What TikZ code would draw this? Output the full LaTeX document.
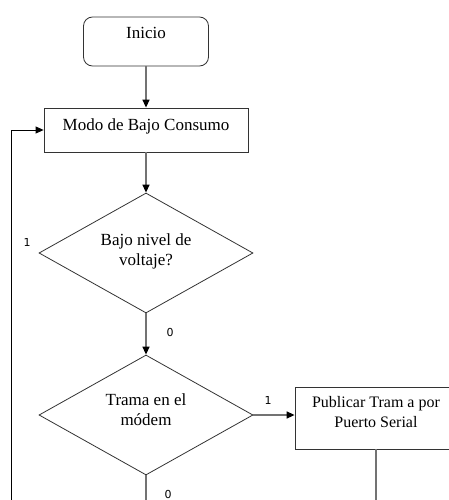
\documentclass[tikz,border=0pt]{standalone}
\usepackage{fontspec}
\setmainfont{Liberation Serif}
\newfontfamily\lblfont{DejaVu Sans}
\usetikzlibrary{arrows.meta,shapes.geometric}
\definecolor{lgray}{gray}{0.45}
\definecolor{ogray}{gray}{0.2}
\begin{document}
\begin{tikzpicture}[x=1pt,y=-1pt,
  box/.style={draw=ogray,line width=0.8pt,inner sep=0pt,font=\fontsize{17}{20}\selectfont,align=center},
  dec/.style={diamond,aspect=1.78,draw=ogray,line width=0.8pt,inner sep=0pt,minimum width=214pt,minimum height=120pt,font=\fontsize{17}{20}\selectfont,align=center},
  arrowline/.style={draw=lgray,line width=1.4pt,-{Triangle[length=8pt,width=7pt,color=black]}},
  plainline/.style={draw=lgray,line width=1.4pt},
  loopline/.style={draw=black,line width=0.8pt,-{Triangle[length=8pt,width=7pt,color=black]}},
  lbl/.style={font=\lblfont\fontsize{11}{13}\selectfont,inner sep=0pt}]
\useasboundingbox (0,0) rectangle (448,500);
\node[box,rounded corners=9pt,minimum width=125pt,minimum height=49pt,text height=12pt,text depth=18pt] (inicio) at (146,41.5) {Inicio};
\node[box,minimum width=204pt,minimum height=44pt,text height=11.6pt,text depth=10.4pt] (modo) at (146,130) {Modo de Bajo Consumo};
\node[dec,text height=31.6pt,text depth=6.4pt] (d1) at (146,253) {Bajo nivel de\\voltaje?};
\node[dec,text height=31.6pt,text depth=10.4pt] (d2) at (146,415) {Trama en el\\módem};
\node[box,minimum width=162pt,minimum height=62pt,font=\fontsize{16}{20}\selectfont,text height=30.9pt,text depth=12.3pt] (pub) at (376,418) {Publicar Tram a por\\Puerto Serial};
\coordinate (d2end) at (146,500);
\coordinate (pubend) at (376,500);
\coordinate (loopbot) at (11,500);
\draw[arrowline] (inicio.south) -- (modo.north);
\draw[arrowline] (modo.south) -- (d1.north);
\draw[arrowline] (d1.south) -- (d2.north);
\draw[arrowline] (d2.east) -- (d2.east -| pub.west);
\draw[plainline] (d2.south) -- (d2end);
\draw[plainline] (pub.south) -- (pubend);
\draw[loopline] (loopbot) -- (loopbot |- modo.west) -- (modo.west);
\node[lbl] (l1a) at (27,242) {1};
\node[lbl] (l0a) at (170,332) {0};
\node[lbl] (l1b) at (268,400) {1};
\node[lbl] (l0b) at (168,494) {0};
\end{tikzpicture}
\end{document}
